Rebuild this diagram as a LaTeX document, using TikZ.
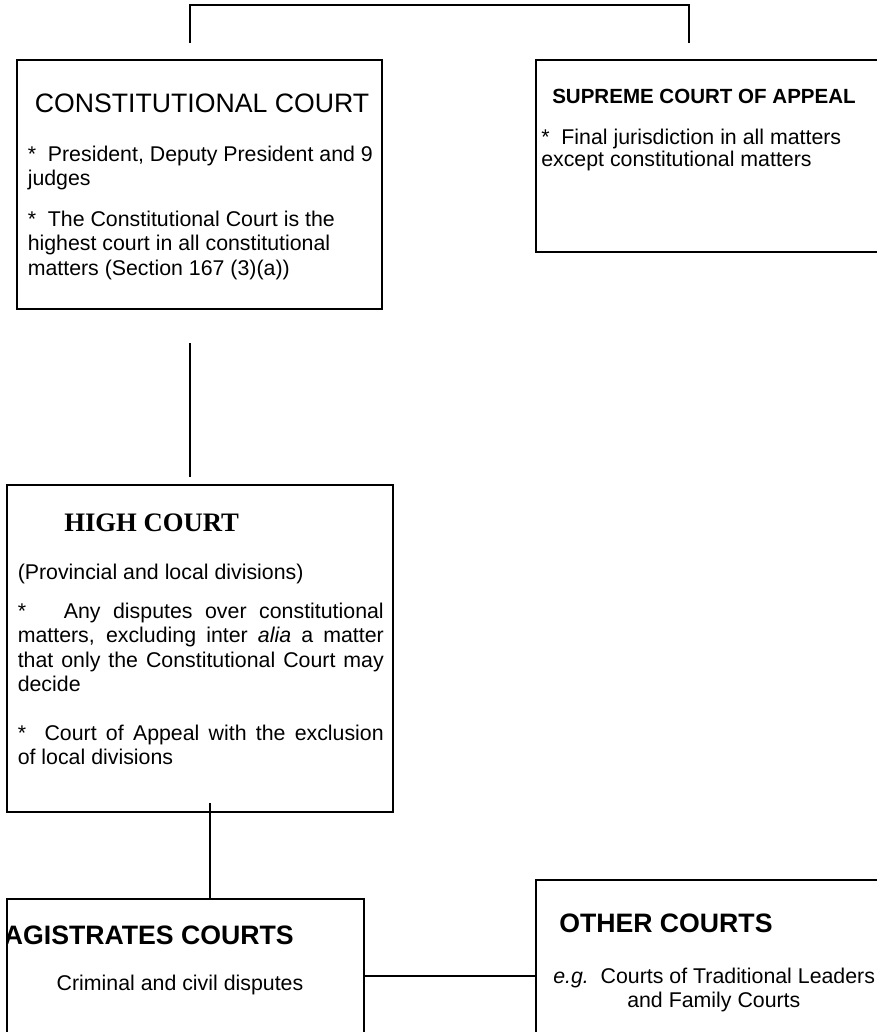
\documentclass[tikz,border=0pt]{standalone}
\usepackage{fontspec}
\setmainfont{Liberation Sans}
\newfontfamily\timesfont{Liberation Serif}
\begin{document}
\begin{tikzpicture}[x=0.75pt,y=-0.75pt,
  courtbox/.style={draw=black, line width=1.5pt, inner sep=0pt, fill=none},
  conn/.style={draw=black, line width=1.1pt},
  ttl/.style={inner sep=0pt, anchor=base west, font=\fontsize{20}{23}\selectfont},
  bodytxt/.style={inner sep=0pt, anchor=base west, font=\fontsize{16}{18.4}\selectfont}
]
\useasboundingbox (0,0) rectangle (877,1032);
\fill[white] (0,0) rectangle (877,1032);

% boxes
\node[courtbox, minimum width=273.75pt, minimum height=186.75pt] (cc) at (199.5,184.5) {};
\node[courtbox, minimum width=273pt, minimum height=144pt] (sca) at (718,156) {};
\node[courtbox, minimum width=289.5pt, minimum height=245.25pt] (hc) at (200,648.5) {};
\node[courtbox, minimum width=267.75pt, minimum height=120.75pt] (mc) at (185.5,979.5) {};
\node[courtbox, minimum width=273pt, minimum height=135pt] (oc) at (718,970) {};

% Constitutional Court
\node[ttl, anchor=base] (cct) at (202,112) {CONSTITUTIONAL COURT};
\node[bodytxt] (ccp1) at (27.5,161) {\parbox[t]{270pt}{\raggedright *\ \ President, Deputy President and 9\\judges}};
\node[bodytxt] (ccp2) at (27.5,226) {\parbox[t]{270pt}{\raggedright *\ \ The Constitutional Court is the\\highest court in all constitutional\\matters (Section 167 (3)(a))}};

% Supreme Court of Appeal
\node[ttl, font=\fontsize{15.4}{18}\selectfont\bfseries] (scat) at (552,103) {SUPREME COURT OF APPEAL};
\node[bodytxt, font=\fontsize{16}{17}\selectfont] (scap) at (541,144) {\parbox[t]{260pt}{\raggedright *\ \ Final jurisdiction in all matters\\except constitutional matters}};

% High Court
\node[ttl, font=\fontsize{20}{23}\selectfont\timesfont\bfseries] (hct) at (64,531) {HIGH COURT};
\node[bodytxt] (hcp0) at (17.5,579) {(Provincial and local divisions)};
\node[bodytxt] (hcp1) at (17.5,618) {\parbox[t]{274.5pt}{*\ \ \ Any disputes over constitutional\linebreak matters, excluding inter \textit{alia} a matter\linebreak that only the Constitutional Court may\linebreak decide}};
\node[bodytxt] (hcp2) at (17.5,740) {\parbox[t]{274.5pt}{*\ \ Court of Appeal with the exclusion\linebreak of local divisions}};

% Magistrates Courts
\begin{scope}
\clip (8,900) rectangle (363,1032);
\node[ttl, font=\fontsize{20}{23}\selectfont\bfseries, anchor=base east] (mct) at (294,944) {MAGISTRATES COURTS};
\end{scope}
\node[bodytxt, anchor=base] (mcp) at (180,990) {Criminal and civil disputes};

% Other Courts
\node[ttl, font=\fontsize{20}{23}\selectfont\bfseries] (oct) at (559,932) {OTHER COURTS};
\node[bodytxt] (ocp1) at (553,983) {\textit{e.g.}\ \ Courts of Traditional Leaders};
\node[bodytxt] (ocp2) at (627,1007) {and Family Courts};

% connectors
\coordinate (b1) at (190,43);
\coordinate (b2) at (689,43);
\draw[conn] (b1) -- ++(0,-38) -| (b2);
\coordinate (c1) at (190,343);
\coordinate (c2) at (190,477);
\draw[conn] (c1) -- (c2);
\coordinate (h1) at (210,803);
\draw[conn] (h1) -- (h1 |- mc.north);
\coordinate (m1) at (363.5,976);
\draw[conn] (m1) -- (m1 -| oc.west);
\end{tikzpicture}
\end{document}
